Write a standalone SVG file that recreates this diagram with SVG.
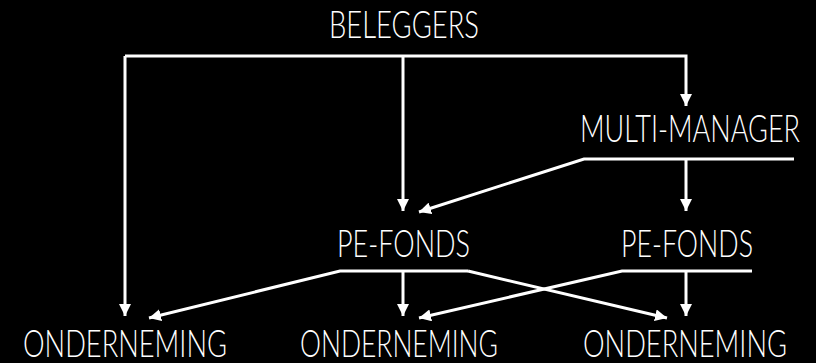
<svg xmlns="http://www.w3.org/2000/svg" width="816" height="363" viewBox="0 0 816 363">
<defs>
<style>
.lbl{font-family:Lato,"DejaVu Sans","Liberation Sans",sans-serif;font-weight:300;font-size:37px;fill:#fff}
.c{stroke:#fff;stroke-width:3;fill:none}
</style>
<marker id="ah" viewBox="0 0 10 10" refX="10" refY="5" markerWidth="4" markerHeight="4" markerUnits="strokeWidth" orient="auto">
<path d="M0,0L10,5L0,10z" fill="#fff"/>
</marker>
</defs>
<rect width="816" height="363" fill="#000"/>
<g id="connectors">
<polyline class="c" points="125,56 686,56 686,106" marker-end="url(#ah)"/>
<polyline class="c" points="125,56 125,316" marker-end="url(#ah)"/>
<polyline class="c" points="403,56 403,211" marker-end="url(#ah)"/>
<polyline class="c" points="794,159 584,159 419,212" marker-end="url(#ah)"/>
<polyline class="c" points="686,159 686,211" marker-end="url(#ah)"/>
<polyline class="c" points="468,271 340,271 149,318" marker-end="url(#ah)"/>
<polyline class="c" points="403,271 403,316" marker-end="url(#ah)"/>
<polyline class="c" points="468,271 667,318" marker-end="url(#ah)"/>
<polyline class="c" points="752,271 622,271 419,318" marker-end="url(#ah)"/>
<polyline class="c" points="686,271 686,316" marker-end="url(#ah)"/>
</g>
<g id="beleggers"><text class="lbl" x="329" y="38" textLength="150" lengthAdjust="spacingAndGlyphs">BELEGGERS</text></g>
<g id="multimanager"><text class="lbl" x="580" y="142" textLength="220" lengthAdjust="spacingAndGlyphs">MULTI-MANAGER</text></g>
<g id="pefonds1"><text class="lbl" x="337" y="257" textLength="133" lengthAdjust="spacingAndGlyphs">PE-FONDS</text></g>
<g id="pefonds2"><text class="lbl" x="621" y="257" textLength="132" lengthAdjust="spacingAndGlyphs">PE-FONDS</text></g>
<g id="onderneming1"><text class="lbl" x="23" y="357" textLength="204" lengthAdjust="spacingAndGlyphs">ONDERNEMING</text></g>
<g id="onderneming2"><text class="lbl" x="300" y="357" textLength="198" lengthAdjust="spacingAndGlyphs">ONDERNEMING</text></g>
<g id="onderneming3"><text class="lbl" x="583" y="357" textLength="204" lengthAdjust="spacingAndGlyphs">ONDERNEMING</text></g>
</svg>
